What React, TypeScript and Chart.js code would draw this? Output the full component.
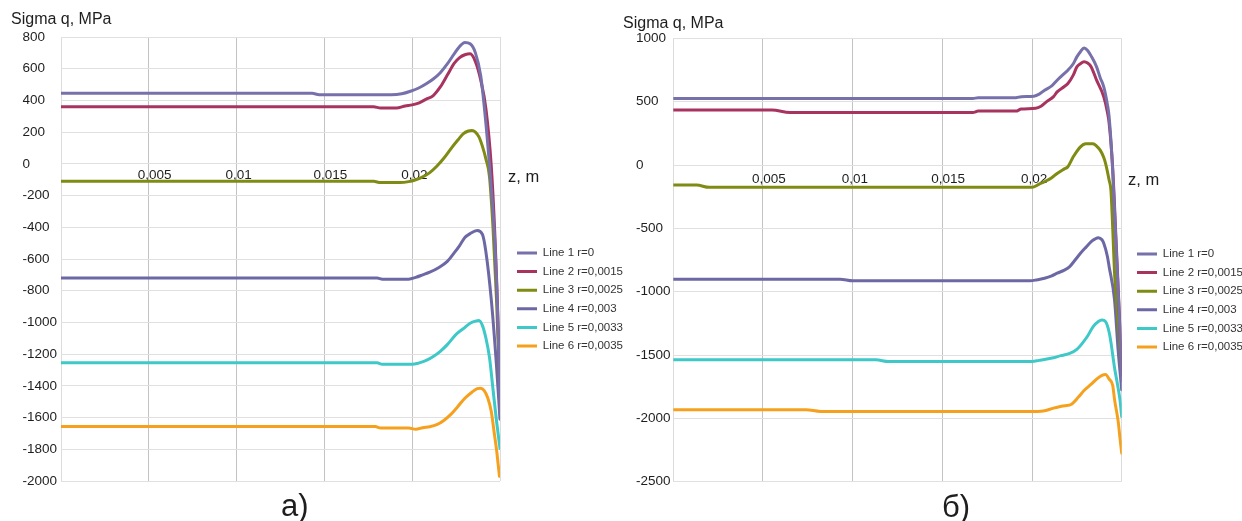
import React, { useEffect, useRef } from 'react';
import { Chart, registerables } from 'chart.js';

Chart.register(...registerables);

type Pt = [number, number];

const FONT = "'Liberation Sans', Arial, Helvetica, sans-serif";

// ---------- data ----------
const seriesLabels = [
  'Line 1 r=0',
  'Line 2 r=0,0015',
  'Line 3 r=0,0025',
  'Line 4 r=0,003',
  'Line 5 r=0,0033',
  'Line 6 r=0,0035',
];
const seriesColors = ['#7771ab', '#a8335f', '#7f8b12', '#6c68a5', '#3ec8c8', '#f6a11d'];

const xTickLabels = ['', '0,005', '0,01', '0,015', '0,02', ''];

// panel а) : z (m), sigma (MPa)
const aLine1: Pt[] = [
  [0, 445], [0.0143, 445], [0.0147, 436], [0.0188, 436], [0.0194, 442], [0.0199, 458],
  [0.0204, 480], [0.0208, 505], [0.0212, 535], [0.0216, 575], [0.022, 630], [0.0224, 695],
  [0.0227, 740], [0.023, 765], [0.0233, 757], [0.0236, 700], [0.0239, 557], [0.0242, 250],
  [0.0245, -150], [0.0247, -480], [0.0249, -1060], [0.025, -1580],
];
const aLine2: Pt[] = [
  [0, 360], [0.0178, 360], [0.0182, 352], [0.0191, 352], [0.0196, 365], [0.02, 372],
  [0.0204, 385], [0.0208, 408], [0.0212, 431], [0.0216, 485], [0.022, 560], [0.0224, 635],
  [0.0227, 670], [0.023, 688], [0.0233, 694], [0.0236, 645], [0.0239, 530], [0.0242, 347],
  [0.0245, -10], [0.0247, -430], [0.0249, -1050], [0.025, -1540],
];
const aLine3: Pt[] = [
  [0, -110], [0.0178, -110], [0.0182, -118], [0.0193, -118], [0.0198, -112], [0.0202, -100],
  [0.0206, -82], [0.021, -55], [0.0214, -15], [0.0218, 35], [0.0222, 95], [0.0226, 150],
  [0.0229, 189], [0.0232, 207], [0.0234, 210], [0.0236, 200], [0.0238, 170], [0.024, 110],
  [0.0242, 30], [0.0244, -80], [0.0246, -400], [0.0248, -850], [0.0249, -1150], [0.025, -1500],
];
const aLine4: Pt[] = [
  [0, -720], [0.018, -720], [0.0183, -727], [0.0198, -727], [0.0202, -716], [0.0206, -700],
  [0.021, -683], [0.0215, -655], [0.022, -615], [0.0224, -560], [0.0227, -515], [0.023, -465],
  [0.0233, -440], [0.0237, -421], [0.024, -445], [0.0242, -557], [0.0245, -852], [0.0248, -1272],
  [0.025, -1610],
];
const aLine5: Pt[] = [
  [0, -1255], [0.018, -1255], [0.0183, -1264], [0.02, -1264], [0.0204, -1255], [0.0208, -1240],
  [0.0212, -1215], [0.0216, -1182], [0.022, -1140], [0.0225, -1075], [0.0229, -1040], [0.0233, -1005],
  [0.0236, -992], [0.0238, -988], [0.024, -1020], [0.0242, -1100], [0.0244, -1220], [0.0246, -1420],
  [0.0248, -1620], [0.025, -1795],
];
const aLine6: Pt[] = [
  [0, -1657], [0.0179, -1657], [0.0182, -1666], [0.0198, -1666], [0.0202, -1674], [0.0206, -1664],
  [0.021, -1658], [0.0214, -1645], [0.0218, -1618], [0.0222, -1580], [0.0226, -1530], [0.023, -1478],
  [0.0234, -1440], [0.0237, -1418], [0.0239, -1415], [0.0241, -1430], [0.0243, -1475], [0.0245, -1560],
  [0.0247, -1720], [0.0248, -1800], [0.0249, -1900], [0.02497, -1970],
];

// panel б) : z (m), sigma (MPa)
const bLine1: Pt[] = [
  [0, 525], [0.0167, 525], [0.017, 532], [0.0191, 532], [0.0194, 540], [0.0201, 544],
  [0.0204, 560], [0.0207, 591], [0.0211, 625], [0.0214, 670], [0.0217, 710], [0.022, 749],
  [0.0223, 800], [0.0225, 854], [0.0227, 895], [0.0229, 925], [0.0231, 905], [0.0233, 860],
  [0.0236, 775], [0.0238, 690], [0.024, 617], [0.0242, 480], [0.0243, 380], [0.0245, -50],
  [0.0247, -680], [0.0249, -1300], [0.025, -1700],
];
const bLine2: Pt[] = [
  [0, 434], [0.0055, 434], [0.0065, 415], [0.0167, 415], [0.017, 426], [0.0191, 426],
  [0.0194, 442], [0.0202, 448], [0.0205, 465], [0.0208, 499], [0.0212, 540], [0.0214, 578],
  [0.0218, 620], [0.022, 644], [0.0223, 710], [0.0225, 775], [0.0227, 800], [0.0229, 815],
  [0.0231, 805], [0.0233, 775], [0.0236, 670], [0.024, 539], [0.0242, 420], [0.0243, 330],
  [0.0245, -30], [0.0247, -640], [0.0249, -1280], [0.025, -1660],
];
const bLine3: Pt[] = [
  [0, -158], [0.0013, -158], [0.002, -176], [0.02, -176], [0.0204, -150], [0.0207, -131],
  [0.0211, -100], [0.0214, -66], [0.0218, -30], [0.022, -13], [0.0223, 65], [0.0227, 144],
  [0.023, 168], [0.0234, 168], [0.0236, 150], [0.0238, 118], [0.024, 60], [0.0241, 13],
  [0.0243, -120], [0.0244, -200], [0.0245, -500], [0.0246, -850], [0.0248, -1250], [0.025, -1630],
];
const bLine4: Pt[] = [
  [0, -901], [0.0093, -901], [0.01, -914], [0.0199, -914], [0.0203, -905], [0.0207, -894],
  [0.0211, -875], [0.0214, -854], [0.0218, -830], [0.0221, -802], [0.0224, -750], [0.0227, -697],
  [0.023, -650], [0.0233, -605], [0.0235, -585], [0.0237, -573], [0.0239, -590], [0.024, -618],
  [0.0242, -720], [0.0243, -802], [0.0246, -1065], [0.0248, -1459], [0.025, -1774],
];
const bLine5: Pt[] = [
  [0, -1538], [0.0113, -1538], [0.012, -1551], [0.02, -1551], [0.0204, -1542], [0.0207, -1535],
  [0.0212, -1522], [0.0216, -1505], [0.0221, -1487], [0.0225, -1455], [0.0228, -1408], [0.0231, -1350],
  [0.0234, -1277], [0.0237, -1235], [0.0239, -1224], [0.0241, -1236], [0.0243, -1320], [0.0244, -1400],
  [0.0246, -1600], [0.0247, -1680], [0.0249, -1850], [0.025, -1985],
];
const bLine6: Pt[] = [
  [0, -1932], [0.0074, -1932], [0.0082, -1945], [0.0203, -1945], [0.0207, -1940], [0.0212, -1919],
  [0.0218, -1900], [0.0222, -1888], [0.0226, -1830], [0.0229, -1780], [0.0233, -1730], [0.0236, -1690],
  [0.0239, -1660], [0.0241, -1653], [0.0243, -1690], [0.0245, -1740], [0.0246, -1850], [0.0248, -2020],
  [0.0249, -2150], [0.025, -2275],
];

const aSeries = [aLine1, aLine2, aLine3, aLine4, aLine5, aLine6];
const bSeries = [bLine1, bLine2, bLine3, bLine4, bLine5, bLine6];

const aYRange = { min: -2000, max: 800, step: 200 };
const bYRange = { min: -2500, max: 1000, step: 500 };
const zRange = { min: 0, max: 0.025, step: 0.005 };

// ---------- layout ----------
const H = 521;

type PanelCfg = {
  series: Pt[][];
  yr: { min: number; max: number; step: number };
  canvasLeft: number;
  canvasW: number;
  padLeft: number;
  axisW: number;
  top: number;
  bottom: number;
  right: number;
  legendX: number;
  legendY: number;
  xLabelPad: number;
};

const panelA: PanelCfg = {
  series: aSeries, yr: aYRange,
  canvasLeft: 0, canvasW: 640, padLeft: 22.5, axisW: 38.5,
  top: 37, bottom: 481, right: 500, legendX: 517, legendY: 253, xLabelPad: 3,
};
const panelB: PanelCfg = {
  series: bSeries, yr: bYRange,
  canvasLeft: 620, canvasW: 622, padLeft: 16, axisW: 37.3,
  top: 38.4, bottom: 481.7, right: 501.7, legendX: 517, legendY: 254, xLabelPad: 6,
};

const LEGEND_PAD = 7.1;
const LEGEND_FONT = 11.5;

const legendPlacer = {
  id: 'legendPlacer',
  afterLayout(chart: any, _args: any, opts: any) {
    const lg = chart.legend;
    if (!lg || !opts || opts.x == null) return;
    lg.left = opts.x - LEGEND_PAD;
    lg.width = 170;
    lg.right = lg.left + lg.width;
    lg.top = opts.y - LEGEND_PAD - LEGEND_FONT / 2;
    lg.height = 150;
    lg.bottom = lg.top + lg.height;
  },
};

function buildConfig(c: PanelCfg): any {
  const tickFont = { family: FONT, size: 13.5 };
  const lastX = Math.round((zRange.max - zRange.min) / zRange.step);
  return {
    type: 'line',
    data: {
      datasets: c.series.map((s, i) => ({
        label: seriesLabels[i],
        data: s.map(([x, y]) => ({ x, y })),
        borderColor: seriesColors[i],
        backgroundColor: seriesColors[i],
        borderWidth: 3,
        pointRadius: 0,
        pointHoverRadius: 0,
        cubicInterpolationMode: 'monotone',
        fill: false,
        borderCapStyle: 'round',
        borderJoinStyle: 'round',
      })),
    },
    options: {
      animation: false,
      responsive: false,
      devicePixelRatio: 1,
      events: [],
      layout: {
        padding: { left: c.padLeft, top: c.top, right: c.canvasW - c.right, bottom: H - c.bottom },
      },
      plugins: {
        legend: {
          display: true,
          position: 'chartArea',
          align: 'start',
          labels: {
            boxWidth: 20,
            boxHeight: 3,
            padding: LEGEND_PAD,
            color: '#333333',
            font: { family: FONT, size: LEGEND_FONT },
            generateLabels: (chart: any) =>
              Chart.defaults.plugins.legend.labels
                .generateLabels(chart)
                .map((l: any) => ({ ...l, fillStyle: l.strokeStyle, lineWidth: 0 })),
          },
        },
        tooltip: { enabled: false },
        legendPlacer: { x: c.legendX, y: c.legendY },
      },
      scales: {
        x: {
          type: 'linear',
          min: zRange.min,
          max: zRange.max,
          position: { y: 0 },
          border: { display: false },
          grid: {
            drawTicks: false,
            lineWidth: 1,
            color: (ctx: any) => (ctx.index === 0 || ctx.index === lastX ? '#dcdcdc' : '#c3c3c3'),
          },
          ticks: {
            stepSize: zRange.step,
            autoSkip: false,
            maxRotation: 0,
            align: 'start',
            labelOffset: -11,
            padding: c.xLabelPad,
            color: '#1e1e1e',
            font: tickFont,
            callback: (_v: any, i: number) => xTickLabels[i] ?? '',
          },
        },
        y: {
          type: 'linear',
          min: c.yr.min,
          max: c.yr.max,
          border: { display: false },
          grid: { drawTicks: false, color: '#e0e0e0', lineWidth: 1 },
          ticks: {
            stepSize: c.yr.step,
            autoSkip: false,
            crossAlign: 'far',
            padding: 0,
            color: '#1e1e1e',
            font: tickFont,
            callback: (v: any) => String(v),
          },
          afterFit: (scale: any) => {
            scale.width = c.axisW;
          },
        },
      },
    },
    plugins: [legendPlacer],
  };
}

function Panel({ cfg }: { cfg: PanelCfg }) {
  const ref = useRef<HTMLCanvasElement>(null);
  useEffect(() => {
    if (!ref.current) return;
    const chart = new Chart(ref.current, buildConfig(cfg));
    return () => chart.destroy();
  }, [cfg]);
  return (
    <canvas
      ref={ref}
      width={cfg.canvasW}
      height={H}
      style={{ position: 'absolute', left: cfg.canvasLeft, top: 0, width: cfg.canvasW, height: H }}
    />
  );
}

export default function App() {
  const textStyle = { fontFamily: FONT, fill: '#1e1e1e' } as React.CSSProperties;
  return (
    <div
      style={{
        position: 'absolute', left: 0, top: 0, width: 1242, height: H,
        background: '#ffffff', overflow: 'hidden',
      }}
    >
      <Panel cfg={panelA} />
      <Panel cfg={panelB} />
      <svg
        width={1242}
        height={H}
        style={{ position: 'absolute', left: 0, top: 0, pointerEvents: 'none' }}
      >
        <text x={11} y={24} fontSize={16} style={textStyle}>Sigma q, MPa</text>
        <text x={623} y={28.3} fontSize={16} style={textStyle}>Sigma q, MPa</text>
        <text x={508} y={182} fontSize={16.5} style={textStyle}>z, m</text>
        <text x={1128} y={185} fontSize={16.5} style={textStyle}>z, m</text>
        <text x={281} y={516} fontSize={31} style={textStyle}>а)</text>
        <text x={942} y={517} fontSize={31} style={textStyle}>б)</text>
      </svg>
    </div>
  );
}
